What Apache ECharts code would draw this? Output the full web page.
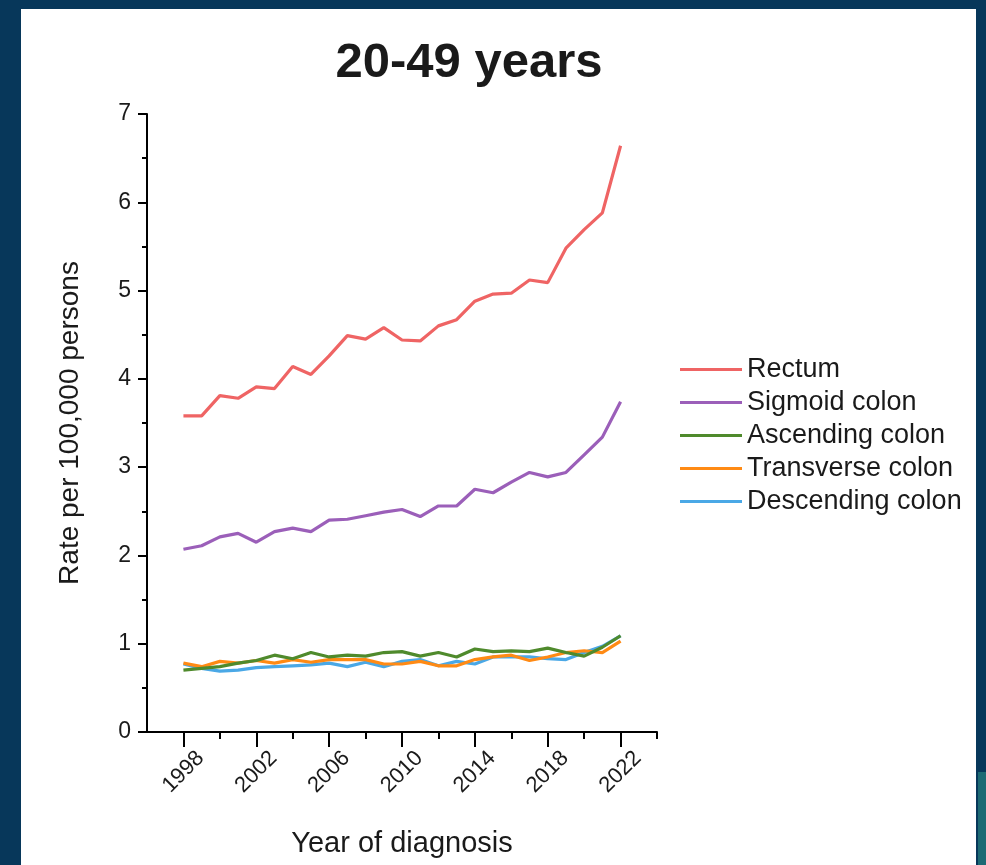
<!DOCTYPE html>
<html>
<head>
<meta charset="utf-8">
<script src="https://cdn.jsdelivr.net/npm/echarts@6/dist/echarts.min.js"></script>
<style>
html,body{margin:0;padding:0;background:#07375a;}
#chart{width:986px;height:865px;}
</style>
</head>
<body>
<div id="chart"></div>
<script>
var years = [1998,1999,2000,2001,2002,2003,2004,2005,2006,2007,2008,2009,2010,2011,2012,2013,2014,2015,2016,2017,2018,2019,2020,2021,2022];
var rectum =     [3.58,3.58,3.81,3.78,3.91,3.89,4.14,4.05,4.26,4.49,4.45,4.58,4.44,4.43,4.60,4.67,4.88,4.96,4.97,5.12,5.09,5.48,5.69,5.88,6.64];
var sigmoid =    [2.07,2.11,2.21,2.25,2.15,2.27,2.31,2.27,2.40,2.41,2.45,2.49,2.52,2.44,2.56,2.56,2.75,2.71,2.83,2.94,2.89,2.94,3.14,3.34,3.74];
var ascending =  [0.70,0.72,0.74,0.78,0.81,0.87,0.83,0.90,0.85,0.87,0.86,0.90,0.91,0.86,0.90,0.85,0.94,0.91,0.92,0.91,0.95,0.90,0.86,0.96,1.09];
var transverse = [0.78,0.74,0.80,0.78,0.81,0.78,0.82,0.79,0.82,0.82,0.82,0.77,0.77,0.80,0.75,0.75,0.82,0.85,0.87,0.81,0.85,0.90,0.92,0.90,1.03];
var descending = [0.77,0.72,0.69,0.70,0.73,0.74,0.75,0.76,0.78,0.74,0.79,0.74,0.80,0.82,0.75,0.80,0.77,0.85,0.85,0.85,0.83,0.82,0.90,0.97,1.09];
var seriesNames = ['Rectum','Sigmoid colon','Ascending colon','Transverse colon','Descending colon'];
var seriesColors = ['#ef6464','#9b5fb9','#4f8a2c','#ff8a14','#4aa8e6'];
var majorYears = [1998,2002,2006,2010,2014,2018,2022];
var minorYears = [2000,2004,2008,2012,2016,2020,2024];

function pairs(vals){ return years.map(function(y,i){ return [y, vals[i]]; }); }
var allVals = [rectum, sigmoid, ascending, transverse, descending];

var FONT = '"Liberation Sans", Arial, sans-serif';
var chart = echarts.init(document.getElementById('chart'), null, {renderer:'canvas'});
var option = {
  backgroundColor: '#07375a',
  animation: false,
  textStyle: {fontFamily: FONT, color: '#1a1a1a'},
  graphic: [
    {type:'rect', z:-10, shape:{x:21, y:9, width:955, height:860}, style:{fill:'#ffffff'}},
    {type:'rect', z:-10, shape:{x:978, y:772, width:8, height:93}, style:{fill:'#1d6a74'}}
  ],
  title: {
    text: '20-49 years',
    left: 464, top: 34, textAlign: 'center',
    textStyle: {fontFamily: FONT, fontSize: 49, fontWeight: 'bold', color: '#1a1a1a'}
  },
  legend: {
    orient: 'vertical', left: 680, top: 356, padding: 0,
    icon: 'rect', itemWidth: 62, itemHeight: 3, itemGap: 6,
    textStyle: {fontFamily: FONT, fontSize: 27, lineHeight: 24, color: '#1a1a1a'},
    data: seriesNames
  },
  grid: {left: 147, top: 114, width: 510, height: 618, containLabel: false},
  xAxis: [{
    type: 'value', min: 1996, max: 2024,
    name: 'Year of diagnosis', nameLocation: 'middle', nameGap: 97,
    nameTextStyle: {fontFamily: FONT, fontSize: 29, color: '#1a1a1a'},
    axisLine: {show: true, onZero: false, lineStyle: {color: '#000', width: 2}},
    axisTick: {show: true, length: 15, lineStyle: {color: '#000', width: 2}, customValues: majorYears},
    axisLabel: {rotate: 45, fontSize: 22, color: '#1a1a1a', margin: 40, align: 'center', verticalAlign: 'middle',
      customValues: majorYears, fontFamily: FONT,
      formatter: function(v){ return String(v); }},
    splitLine: {show: false}
  },{
    type: 'value', min: 1996, max: 2024, position: 'bottom',
    axisLine: {show: false, onZero: false},
    axisTick: {show: true, length: 7, lineStyle: {color: '#000', width: 2}, customValues: minorYears},
    axisLabel: {show: false},
    splitLine: {show: false}
  }],
  yAxis: {
    type: 'value', min: 0, max: 7, interval: 1,
    name: 'Rate per 100,000 persons', nameLocation: 'middle', nameGap: 63,
    nameTextStyle: {fontFamily: FONT, fontSize: 28, color: '#1a1a1a'},
    axisLine: {show: true, lineStyle: {color: '#000', width: 2}},
    axisTick: {show: true, length: 9, lineStyle: {color: '#000', width: 2}},
    minorTick: {show: true, splitNumber: 2, length: 5, lineStyle: {color: '#000', width: 2}},
    axisLabel: {fontSize: 23, color: '#1a1a1a', margin: 16, fontFamily: FONT},
    splitLine: {show: false}
  },
  series: seriesNames.map(function(n, i){
    return {
      name: n, type: 'line', xAxisIndex: 0, data: pairs(allVals[i]),
      showSymbol: false, symbol: 'none',
      lineStyle: {width: 3.2, color: seriesColors[i]},
      itemStyle: {color: seriesColors[i]},
      z: 10 - i
    };
  })
};
chart.setOption(option);
</script>
</body>
</html>
